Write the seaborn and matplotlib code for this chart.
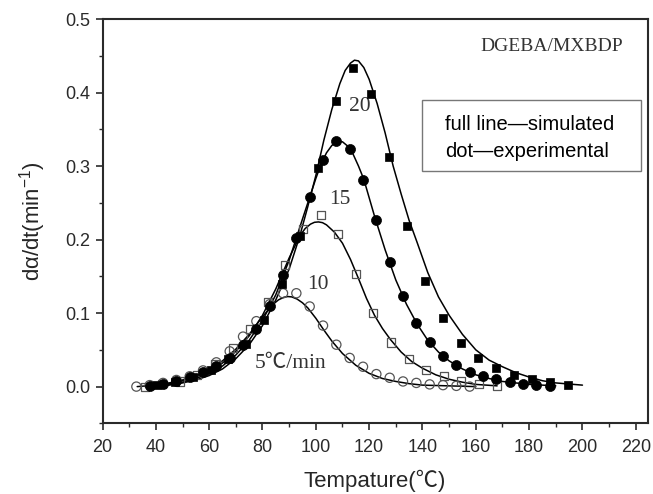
import matplotlib
matplotlib.use("Agg")
import matplotlib.pyplot as plt
import seaborn as sns
from matplotlib.ticker import MultipleLocator, FormatStrFormatter
from matplotlib.patches import Rectangle

# ---------------- data ----------------
# experimental points (dot)
T5 = [32.7, 37.7, 42.7, 47.7, 52.7, 57.7, 62.7, 67.7, 72.7, 77.7, 82.7, 87.7, 92.7,
      97.7, 102.7, 107.7, 112.7, 117.7, 122.7, 127.7, 132.7, 137.7, 142.7, 147.7, 152.7, 157.7]
Y5 = [0.000, 0.002, 0.005, 0.009, 0.014, 0.022, 0.033, 0.048, 0.068, 0.089, 0.112, 0.127, 0.127,
      0.109, 0.083, 0.057, 0.039, 0.027, 0.017, 0.012, 0.007, 0.005, 0.003, 0.002, 0.001, 0.000]

T10 = [35.8, 42.4, 49.0, 55.6, 62.2, 68.8, 75.4, 82.0, 88.6, 95.2, 101.8, 108.4, 115.0,
       121.6, 128.2, 134.8, 141.4, 148.0, 154.6, 161.2, 167.8]
Y10 = [0.000, 0.003, 0.007, 0.016, 0.030, 0.052, 0.078, 0.115, 0.166, 0.214, 0.234, 0.208, 0.153,
       0.100, 0.060, 0.037, 0.023, 0.014, 0.008, 0.004, 0.001]

T15 = [37.7, 42.7, 47.7, 52.7, 57.7, 62.7, 67.7, 72.7, 77.7, 82.7, 87.7, 92.7, 97.7, 102.7,
       107.7, 112.7, 117.7, 122.7, 127.7, 132.7, 137.7, 142.7, 147.7, 152.7, 157.7, 162.7,
       167.7, 172.7, 177.7, 182.7, 187.7]
Y15 = [0.001, 0.004, 0.007, 0.013, 0.020, 0.028, 0.039, 0.057, 0.079, 0.110, 0.152, 0.202, 0.258, 0.308,
       0.334, 0.323, 0.281, 0.227, 0.169, 0.123, 0.087, 0.060, 0.042, 0.029, 0.020, 0.015,
       0.010, 0.006, 0.004, 0.002, 0.001]

T20 = [40.4, 47.1, 53.8, 60.5, 67.2, 73.9, 80.6, 87.3, 94.0, 100.7, 107.4, 114.1, 120.8,
       127.5, 134.2, 140.9, 147.6, 154.3, 161.0, 167.7, 174.4, 181.1, 187.8, 194.5]
Y20 = [0.002, 0.006, 0.013, 0.022, 0.037, 0.058, 0.090, 0.139, 0.205, 0.298, 0.389, 0.433, 0.398,
       0.312, 0.218, 0.144, 0.093, 0.059, 0.039, 0.025, 0.016, 0.010, 0.006, 0.002]

# simulated curves (full line)
L5_T = [33, 40, 45, 50, 55, 60, 65, 70, 75, 80, 84, 86, 88, 89.5, 91, 93, 95, 97, 100, 103, 106,
        110, 115, 120, 125, 130, 135, 140, 150, 160]
L5_Y = [0.000, 0.002, 0.005, 0.009, 0.015, 0.023, 0.035, 0.051, 0.071, 0.095, 0.112, 0.118, 0.1215,
        0.1225, 0.122, 0.119, 0.114, 0.107, 0.093, 0.077, 0.062, 0.045, 0.029, 0.018, 0.011, 0.007,
        0.004, 0.002, 0.001, 0.000]

L10_T = [36, 45, 50, 55, 60, 65, 70, 75, 80, 85, 90, 94, 96, 98, 99.5, 101, 102.5, 104, 107, 110,
         113, 116, 119, 122, 125, 128, 132, 136, 140, 145, 150, 155, 160, 168]
L10_Y = [0.000, 0.004, 0.008, 0.013, 0.021, 0.032, 0.048, 0.069, 0.097, 0.133, 0.175, 0.205, 0.215,
         0.221, 0.2235, 0.224, 0.223, 0.220, 0.210, 0.195, 0.173, 0.147, 0.120, 0.097, 0.079, 0.064,
         0.047, 0.034, 0.025, 0.016, 0.010, 0.006, 0.003, 0.001]

L15_T = [37, 45, 50, 55, 60, 65, 70, 75, 80, 85, 90, 95, 100, 102, 104, 106, 108, 110, 112, 114,
         116, 118, 122, 126, 130, 134, 138, 142, 146, 150, 155, 160, 165, 170, 180, 190]
L15_Y = [0.000, 0.003, 0.006, 0.011, 0.018, 0.028, 0.043, 0.063, 0.090, 0.125, 0.172, 0.228, 0.283,
         0.303, 0.318, 0.328, 0.333, 0.333, 0.327, 0.316, 0.300, 0.282, 0.232, 0.186, 0.145, 0.112,
         0.085, 0.063, 0.047, 0.035, 0.024, 0.016, 0.011, 0.007, 0.003, 0.001]

L20_T = [38, 45, 50, 55, 60, 65, 70, 75, 80, 85, 90, 94, 97, 100, 103, 106, 109, 111, 113, 114.5,
         116, 118, 120, 123, 126, 129, 132, 135, 138, 142, 146, 150, 155, 160, 165, 170, 175, 180,
         185, 190, 200]
L20_Y = [0.000, 0.002, 0.005, 0.009, 0.015, 0.024, 0.038, 0.057, 0.083, 0.118, 0.160, 0.205, 0.245,
         0.287, 0.335, 0.377, 0.412, 0.430, 0.440, 0.444, 0.443, 0.434, 0.418, 0.385, 0.345, 0.300,
         0.262, 0.226, 0.196, 0.155, 0.122, 0.097, 0.071, 0.050, 0.036, 0.027, 0.019, 0.013, 0.008,
         0.005, 0.002]

X_TICKS = list(range(20, 221, 20))
Y_TICKS = [0.0, 0.1, 0.2, 0.3, 0.4, 0.5]

# ---------------- style ----------------
sns.set_style("ticks")
plt.rcParams["font.family"] = ["Liberation Sans", "Noto Sans CJK SC"]
plt.rcParams["mathtext.fontset"] = "custom"
plt.rcParams["mathtext.rm"] = "Liberation Sans"
plt.rcParams["mathtext.default"] = "regular"

fig = plt.figure(figsize=(6.53, 4.94), dpi=100)
ax = fig.add_axes([0.157, 0.143, 0.835, 0.8185])

for lt, ly in [(L5_T, L5_Y), (L10_T, L10_Y), (L15_T, L15_Y), (L20_T, L20_Y)]:
    sns.lineplot(x=lt, y=ly, ax=ax, color="black", lw=1.1, sort=False, zorder=2)

gray = "#555555"
sns.scatterplot(x=T5, y=Y5, ax=ax, marker="o", s=44, facecolor="none", edgecolor=gray,
                linewidth=0.9, zorder=3)
sns.scatterplot(x=T10, y=Y10, ax=ax, marker="s", s=34, facecolor="none", edgecolor=gray,
                linewidth=0.9, zorder=3)
sns.scatterplot(x=T15, y=Y15, ax=ax, marker="o", s=52, color="black", edgecolor="black",
                linewidth=0.5, zorder=4)
sns.scatterplot(x=T20, y=Y20, ax=ax, marker="s", s=38, color="black", edgecolor="black",
                linewidth=0.5, zorder=4)

ax.set_xlim(20, 224.5)
ax.set_ylim(-0.05, 0.5)
ax.set_xticks(X_TICKS)
ax.set_yticks(Y_TICKS)
ax.xaxis.set_minor_locator(MultipleLocator(10))
ax.yaxis.set_minor_locator(MultipleLocator(0.05))
ax.yaxis.set_major_formatter(FormatStrFormatter("%.1f"))

for sp in ax.spines.values():
    sp.set_visible(True)
    sp.set_linewidth(1.5)
    sp.set_color("#2a2a2a")

ax.tick_params(which="major", direction="out", length=5, width=1.2, labelsize=13,
               colors="#2a2a2a", pad=4, top=False, right=False)
ax.tick_params(which="minor", direction="out", length=3, width=1.0, colors="#2a2a2a",
               top=False, right=False)
ax.tick_params(axis="x", which="major", pad=6)

ax.set_xlabel("Tempature(℃)", fontsize=16, labelpad=10)
ax.set_ylabel("dα/dt(min$^{-1}$)", fontsize=16, labelpad=12)

serif = ["Liberation Serif", "Noto Sans CJK SC"]
tc = "#333333"
ax.text(116.5, 0.381, "20", family=serif, fontsize=15.5, ha="center", va="center", color=tc)
ax.text(109.1, 0.254, "15", family=serif, fontsize=15.5, ha="center", va="center", color=tc)
ax.text(100.8, 0.139, "10", family=serif, fontsize=15.5, ha="center", va="center", color=tc)
ax.text(90.6, 0.032, "5℃/min", family=serif, fontsize=15.5, ha="center", va="center", color=tc)
ax.text(188.4, 0.462, "DGEBA/MXBDP", family=serif, fontsize=14, ha="center", va="center",
        color=tc)

ax.add_patch(Rectangle((0.586, 0.624), 0.402, 0.176, transform=ax.transAxes,
                       fill=False, edgecolor="#777777", lw=1.0, zorder=5))
ax.text(0.628, 0.725, "full line—simulated", transform=ax.transAxes, fontsize=14.5,
        ha="left", va="baseline", color="black", zorder=6)
ax.text(0.628, 0.659, "dot—experimental", transform=ax.transAxes, fontsize=14.5,
        ha="left", va="baseline", color="black", zorder=6)

fig.savefig("out.png", dpi=100)
